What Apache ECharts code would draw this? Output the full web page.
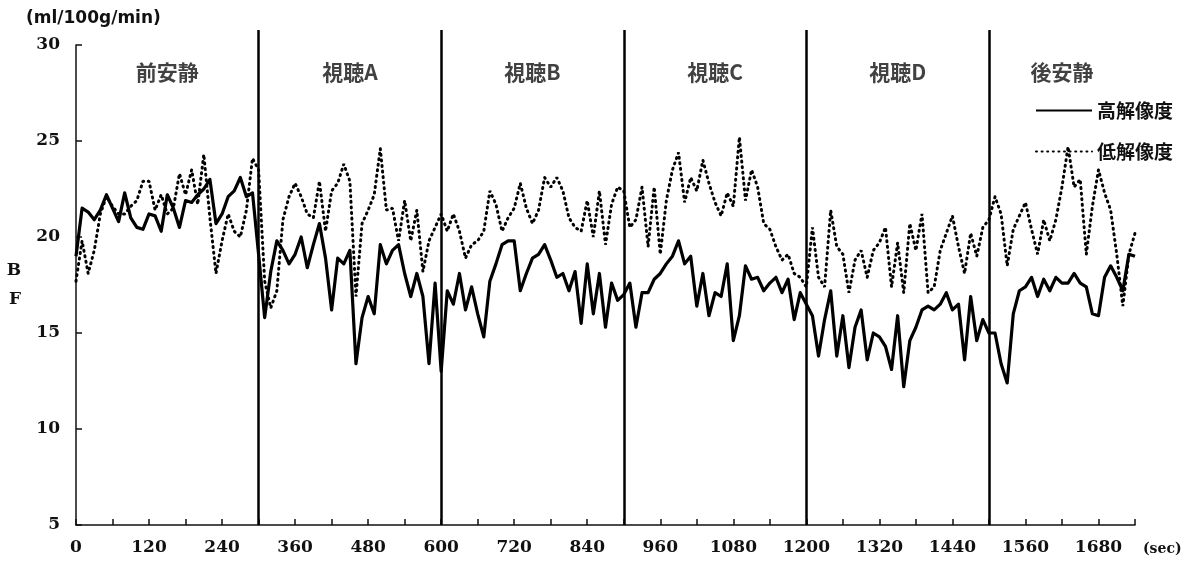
<!DOCTYPE html>
<html lang="ja">
<head>
<meta charset="UTF-8">
<title>BF</title>
<script src="https://cdn.jsdelivr.net/npm/echarts@6/dist/echarts.min.js"></script>
</head>
<body style="margin:0;background:#fff;">
<div id="main" style="width:1194px;height:566px;"></div>
<script>
// サンプル間隔 10 sec
var step = 10;
// 区間の境界 (sec)
var bounds = [0, 300, 600, 900, 1200, 1500, 1740];
var sections = ['前安静', '視聴A', '視聴B', '視聴C', '視聴D', '後安静'];

// 高解像度 (solid)
var high = [
  19.0, 21.5, 21.3, 20.9, 21.4, 22.2, 21.5, 20.8, 22.3, 21.0, 20.5, 20.4, 21.2, 21.1, 20.3,
  22.2, 21.5, 20.5, 21.9, 21.8, 22.2, 22.5, 23.0, 20.7, 21.2, 22.1, 22.4, 23.1, 22.1, 22.3,
  19.1, 15.8, 18.2, 19.8, 19.3, 18.6, 19.1, 20.0, 18.4, 19.6, 20.7, 18.9, 16.2, 18.9, 18.6,
  19.3, 13.4, 15.8, 16.9, 16.0, 19.6, 18.6, 19.3, 19.6, 18.1, 16.9, 18.1, 16.9, 13.4, 17.6,
  13.0, 17.2, 16.5, 18.1, 16.2, 17.4, 16.0, 14.8, 17.7, 18.6, 19.6, 19.8, 19.8, 17.2, 18.1,
  18.9, 19.1, 19.6, 18.8, 17.9, 18.1, 17.2, 18.2, 15.5, 18.6, 16.0, 18.1, 15.3, 17.6, 16.7,
  17.0, 17.6, 15.3, 17.1, 17.1, 17.8, 18.1, 18.6, 19.0, 19.8, 18.6, 19.0, 16.4, 18.1, 15.9,
  17.1, 16.9, 18.6, 14.6, 15.9, 18.5, 17.8, 17.9, 17.2, 17.6, 17.9, 17.1, 17.8, 15.7, 17.1,
  16.5, 15.9, 13.8, 15.7, 17.2, 13.8, 15.9, 13.2, 15.3, 16.2, 13.6, 15.0, 14.8, 14.3, 13.1,
  15.9, 12.2, 14.6, 15.3, 16.2, 16.4, 16.2, 16.5, 17.1, 16.2, 16.5, 13.6, 16.9, 14.6, 15.7,
  15.0, 15.0, 13.4, 12.4, 16.0, 17.2, 17.4, 17.9, 16.9, 17.8, 17.2, 17.9, 17.6, 17.6, 18.1,
  17.6, 17.4, 16.0, 15.9, 17.9, 18.5, 17.9, 17.2, 19.1, 19.0
];

// 低解像度 (dotted)
var low = [
  17.7, 19.8, 18.1, 19.3, 21.2, 22.1, 21.6, 21.2, 21.2, 21.6, 21.9, 22.9, 22.9, 21.4, 22.2,
  21.2, 21.5, 23.3, 22.2, 23.5, 21.7, 24.3, 21.0, 18.1, 19.8, 21.2, 20.3, 20.0, 21.4, 24.1,
  23.5, 17.7, 16.3, 17.2, 20.9, 22.1, 22.8, 22.1, 21.2, 21.0, 22.9, 20.3, 22.4, 22.8, 23.8,
  22.9, 16.9, 20.7, 21.4, 22.2, 24.6, 21.4, 21.5, 19.8, 21.9, 19.8, 21.4, 18.2, 19.8, 20.5,
  21.2, 20.3, 21.2, 20.3, 18.9, 19.6, 19.8, 20.3, 22.4, 21.7, 20.3, 21.0, 21.5, 22.8, 21.5,
  20.7, 21.4, 23.1, 22.6, 23.1, 22.4, 21.0, 20.5, 20.3, 21.9, 20.0, 22.4, 19.6, 21.7, 22.6,
  22.4, 20.5, 20.9, 22.6, 19.5, 22.6, 19.1, 21.9, 23.5, 24.4, 21.8, 23.1, 22.4, 24.0, 22.8,
  21.8, 21.1, 22.3, 21.6, 25.2, 21.9, 23.5, 22.6, 20.7, 20.4, 19.5, 18.8, 19.1, 18.1, 17.9,
  17.4, 20.5, 17.9, 17.4, 21.4, 19.5, 19.1, 17.1, 18.8, 19.3, 17.9, 19.3, 19.7, 20.5, 17.4,
  19.7, 17.1, 20.7, 19.3, 21.2, 17.1, 17.4, 19.3, 20.2, 21.1, 19.5, 18.1, 20.2, 19.0, 20.5,
  20.9, 22.1, 21.2, 18.5, 20.4, 21.1, 21.8, 20.4, 19.1, 20.9, 19.8, 20.9, 22.6, 24.7, 22.6,
  23.0, 19.1, 21.6, 23.5, 22.3, 21.4, 19.1, 16.4, 19.1, 20.2
];

var highData = high.map(function (v, i) { return [i * step, v]; });
var lowData = low.map(function (v, i) { return [i * step, v]; });

// 区間名は区間の中央に置く
var labelData = sections.map(function (name, i) {
  return { name: name, value: [(bounds[i] + bounds[i + 1]) / 2, 28.6] };
});
var splitLines = bounds.slice(1, -1).map(function (v) { return { xAxis: v }; });

var numFont = 'DejaVu Serif';
var jpFont = 'Noto Sans CJK JP';

var myChart = echarts.init(document.getElementById('main'));
var option = {
  animation: false,
  backgroundColor: '#fff',
  title: {
    text: '(ml/100g/min)',
    left: 21,
    top: 5,
    textStyle: { fontFamily: 'DejaVu Sans', fontSize: 17, fontWeight: 'bold', color: '#111' }
  },
  legend: {
    orient: 'vertical',
    right: 16,
    top: 96,
    itemWidth: 56,
    itemHeight: 20,
    itemGap: 22,
    itemStyle: { opacity: 0 },
    textStyle: { fontFamily: jpFont, fontSize: 19, fontWeight: 'bold', color: '#111' },
    data: ['高解像度', '低解像度']
  },
  grid: [
    { left: 76, right: 59, top: 45, bottom: 41 },
    { left: 76, right: 59, top: 30, bottom: 41 }
  ],
  xAxis: [
    {
      type: 'value',
      min: 0,
      max: 1740,
      interval: 60,
      name: '(sec)',
      nameLocation: 'end',
      nameGap: 8,
      nameTextStyle: { fontFamily: numFont, fontSize: 14, fontWeight: 'bold', color: '#111', verticalAlign: 'top', padding: [17, 0, 0, 0] },
      axisLine: { lineStyle: { color: '#111', width: 1.5 } },
      axisTick: { inside: true, length: 6, lineStyle: { color: '#111', width: 1.5 } },
      axisLabel: {
        margin: 14,
        fontFamily: numFont,
        fontSize: 17,
        fontWeight: 'bold',
        color: '#111',
        formatter: function (v) { return v % 120 === 0 ? String(v) : ''; }
      },
      splitLine: { show: false }
    },
    { type: 'value', gridIndex: 1, min: 0, max: 1740, show: false }
  ],
  yAxis: [
    {
      type: 'value',
      min: 5,
      max: 30,
      interval: 5,
      name: 'B\nF',
      nameLocation: 'middle',
      nameRotate: 0,
      nameGap: 55,
      nameTextStyle: { fontFamily: numFont, fontSize: 17, fontWeight: 'bold', color: '#111', lineHeight: 29 },
      axisLine: { show: true, lineStyle: { color: '#111', width: 1.5 } },
      axisTick: { show: true, inside: true, length: 6, lineStyle: { color: '#111', width: 1.5 } },
      axisLabel: { margin: 16, fontFamily: numFont, fontSize: 17, fontWeight: 'bold', color: '#111' },
      splitLine: { show: false }
    },
    { type: 'value', gridIndex: 1, min: 0, max: 1, show: false }
  ],
  series: [
    {
      name: '高解像度',
      type: 'line',
      data: highData,
      symbol: 'none',
      lineStyle: { color: '#000', width: 3.2, join: 'round' },
      itemStyle: { color: '#000' },
      z: 3
    },
    {
      name: '低解像度',
      type: 'line',
      data: lowData,
      symbol: 'none',
      lineStyle: { color: '#000', width: 3, type: [1, 4.6], cap: 'round' },
      itemStyle: { color: '#000' },
      z: 2
    },
    {
      name: 'sections',
      type: 'scatter',
      data: labelData,
      symbol: 'circle',
      symbolSize: 1,
      itemStyle: { color: 'rgba(0,0,0,0)' },
      silent: true,
      label: {
        show: true,
        position: 'inside',
        formatter: '{b}',
        fontFamily: jpFont,
        fontSize: 21,
        fontWeight: 'bold',
        color: '#111'
      }
    },
    {
      name: 'bounds',
      type: 'line',
      xAxisIndex: 1,
      yAxisIndex: 1,
      data: [],
      symbol: 'none',
      silent: true,
      markLine: {
        silent: true,
        symbol: 'none',
        label: { show: false },
        lineStyle: { color: '#000', width: 2.5, type: 'solid' },
        data: splitLines
      },
      z: 4
    }
  ]
};
myChart.setOption(option);
</script>
</body>
</html>
